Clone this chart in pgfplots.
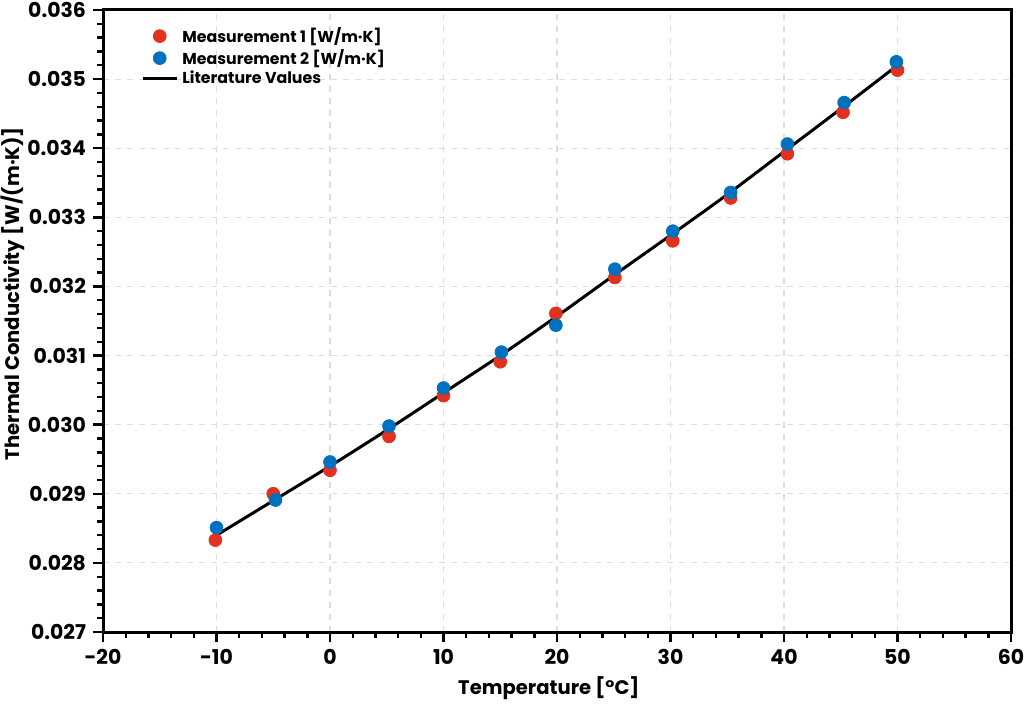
\documentclass[border=0pt]{standalone}
\usepackage{pgfplots}
\pgfplotsset{compat=1.18}
\usepackage{fontspec}
\setmainfont{Poppins}
\definecolor{mred}{HTML}{E2311D}
\definecolor{mblue}{HTML}{0071BF}
\definecolor{gridc}{HTML}{DDDDDD}
\begin{document}
\begin{tikzpicture}
\begin{axis}[
  name=ax,
  scale only axis,
  width=454pt, height=311pt,
  xmin=-20, xmax=60, ymin=0.027, ymax=0.036,
  xtick distance=10, ytick distance=0.001,
  minor tick num=4,
  axis line style={line width=1.5pt},
  tick align=outside,
  xtick pos=bottom, ytick pos=left,
  major tick length=5pt, minor tick length=3pt,
  every tick/.style={black, line width=1.2pt},
  grid=major,
  major grid style={gridc, dashed, line width=0.6pt},
  scaled y ticks=false,
  /pgf/number format/assume math mode=true,
  yticklabel style={/pgf/number format/.cd, fixed, fixed zerofill, precision=3},
  ticklabel style={font=\bfseries\fontsize{10.2}{12}\selectfont},
  xlabel={Temperature [°C]},
  ylabel={Thermal Conductivity [W/(m·K)]},
  label style={font=\bfseries\fontsize{9.8}{12}\selectfont},
  xlabel style={at={(axis description cs:0.491,-0.090)}, anchor=center},
  ylabel style={at={(axis description cs:-0.0995,0.544)}, anchor=center},
  legend style={at={(0.035,0.986)}, anchor=north west, draw=none, fill=none,
    font=\bfseries\fontsize{7.9}{9}\selectfont, row sep=-2pt},
  legend cell align=left,
]
\addplot[only marks, mark=*, mark size=3.2pt, mred, mark options={draw=mred, fill=mred}] coordinates {
(-10.1,0.02833) (-5.0,0.02900) (0.0,0.02934) (5.2,0.02983) (10.0,0.03042)
(15.0,0.03091) (19.9,0.03161) (25.1,0.03213) (30.2,0.03266) (35.3,0.03328)
(40.3,0.03392) (45.2,0.03452) (50.0,0.03513)
};
\addlegendentry{Measurement 1 [W/m·K]}
\addplot[only marks, mark=*, mark size=3.2pt, mblue, mark options={draw=mblue, fill=mblue}] coordinates {
(-10.0,0.02851) (-4.8,0.02891) (0.0,0.02946) (5.2,0.02998) (10.0,0.03053)
(15.1,0.03105) (19.9,0.03144) (25.1,0.03225) (30.2,0.03280) (35.3,0.03336)
(40.3,0.03406) (45.3,0.03466) (49.9,0.03525)
};
\addlegendentry{Measurement 2 [W/m·K]}
\addplot[black, line width=1.5pt, smooth] coordinates {
(-10,0.02840) (-5,0.02890) (0,0.02940) (5,0.02992) (10,0.03046) (15,0.03100)
(20,0.03157) (25,0.03216) (30,0.03274) (35,0.03333) (40,0.03395) (45,0.03457) (50,0.03520)
};
\addlegendentry{Literature Values}
\end{axis}
\pgfresetboundingbox
\path[use as bounding box] ([xshift=-51.5pt,yshift=-36.5pt]ax.south west) rectangle ([xshift=6.5pt,yshift=5pt]ax.north east);
\end{tikzpicture}
\end{document}
